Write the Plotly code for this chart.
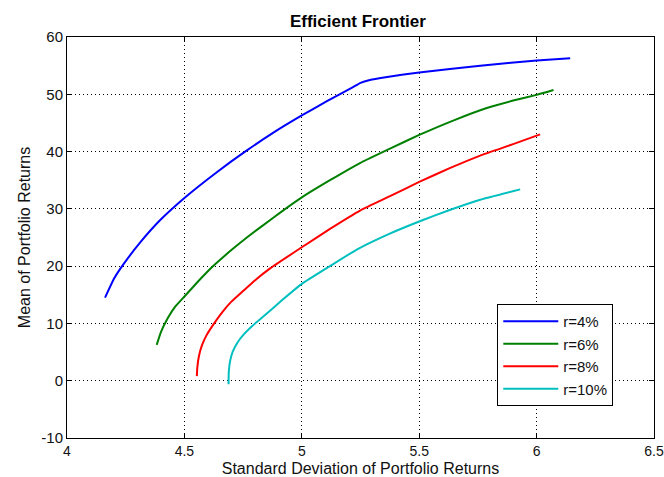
import plotly.graph_objects as go

# Data (std dev, mean)
blue_x = [4.162, 4.20, 4.24, 4.311, 4.396, 4.5, 4.638, 4.766, 4.879, 5.0, 5.107, 5.22, 5.25, 5.29, 5.35, 5.5, 5.76, 6.0, 6.143]
blue_y = [14.5, 17.8, 20.3, 24.1, 28.0, 31.9, 36.4, 40.2, 43.3, 46.3, 48.8, 51.3, 52.0, 52.5, 52.95, 53.8, 55.0, 55.9, 56.3]

green_x = [4.382, 4.40, 4.43, 4.46, 4.5, 4.56, 4.617, 4.70, 4.766, 4.88, 5.0, 5.12, 5.248, 5.38, 5.5, 5.65, 5.788, 5.9, 6.0, 6.072]
green_y = [6.25, 8.5, 11.0, 12.9, 14.7, 17.4, 19.8, 22.8, 25.0, 28.5, 32.0, 35.0, 38.0, 40.6, 42.9, 45.5, 47.6, 48.9, 49.9, 50.75]

red_x = [4.553, 4.555, 4.562, 4.575, 4.595, 4.623, 4.66, 4.70, 4.751, 4.80, 4.865, 5.0, 5.12, 5.248, 5.38, 5.5, 5.63, 5.76, 5.9, 6.015]
red_y = [0.8, 2.3, 4.3, 6.2, 8.0, 9.8, 11.9, 13.8, 15.7, 17.5, 19.6, 23.3, 26.5, 29.7, 32.3, 34.7, 37.1, 39.3, 41.3, 43.0]

cyan_x = [4.688, 4.689, 4.694, 4.705, 4.725, 4.751, 4.79, 4.836, 4.92, 5.0, 5.12, 5.234, 5.37, 5.5, 5.63, 5.76, 5.93]
cyan_y = [-0.6, 1.5, 3.3, 5.0, 6.6, 8.0, 9.6, 11.2, 14.2, 16.9, 20.0, 22.9, 25.6, 27.8, 29.8, 31.6, 33.4]

series_names = ["r=4%", "r=6%", "r=8%", "r=10%"]
series_colors = ["#0000FF", "#008000", "#FF0000", "#00BFBF"]

x_ticks = [4, 4.5, 5, 5.5, 6, 6.5]
x_tick_labels = ["4", "4.5", "5", "5.5", "6", "6.5"]
y_ticks = [-10, 0, 10, 20, 30, 40, 50, 60]
y_tick_labels = ["-10", "0", "10", "20", "30", "40", "50", "60"]

fig = go.Figure()
for xs, ys, name, col in zip([blue_x, green_x, red_x, cyan_x],
                             [blue_y, green_y, red_y, cyan_y],
                             series_names, series_colors):
    fig.add_trace(go.Scatter(x=xs, y=ys, mode="lines", name=name,
                             line=dict(color=col, width=2, shape="spline", smoothing=0.4)))

font = "Liberation Sans, Arial, sans-serif"
fig.update_layout(
    width=664, height=477,
    margin=dict(l=67, r=10, t=37, b=39),
    paper_bgcolor="white", plot_bgcolor="white",
    font=dict(family=font, size=15, color="#111111"),
    title=dict(text="<b>Efficient Frontier</b>", x=0.539, xanchor="center",
               xref="container",
               y=1 - 21/477, yanchor="middle", font=dict(size=17, color="black")),
    legend=dict(x=0.733, y=0.334, xanchor="left", yanchor="top",
                bgcolor="white", bordercolor="black", borderwidth=1,
                font=dict(size=15), tracegroupgap=0, itemwidth=55),
    xaxis=dict(range=[4, 6.5], tickvals=x_ticks, ticktext=x_tick_labels,
               showgrid=True, gridcolor="black", griddash="1px,3px", gridwidth=1,
               showline=True, linecolor="black", linewidth=1, mirror="ticks",
               ticks="inside", ticklen=5, tickcolor="black", zeroline=False,
               automargin=False, tickfont=dict(size=14), ticklabeloverflow="allow",
               title=dict(text="Standard Deviation of Portfolio Returns", standoff=5,
                          font=dict(size=16))),
    yaxis=dict(range=[-10, 60], tickvals=y_ticks, ticktext=y_tick_labels,
               showgrid=True, gridcolor="black", griddash="1px,3px", gridwidth=1,
               showline=True, linecolor="black", linewidth=1, mirror="ticks",
               ticks="inside", ticklen=5, tickcolor="black", zeroline=False,
               automargin=False, tickfont=dict(size=15),
               title=dict(text="Mean of Portfolio Returns", standoff=6,
                          font=dict(size=16))),
    showlegend=True,
)

fig.write_html("out.html")
